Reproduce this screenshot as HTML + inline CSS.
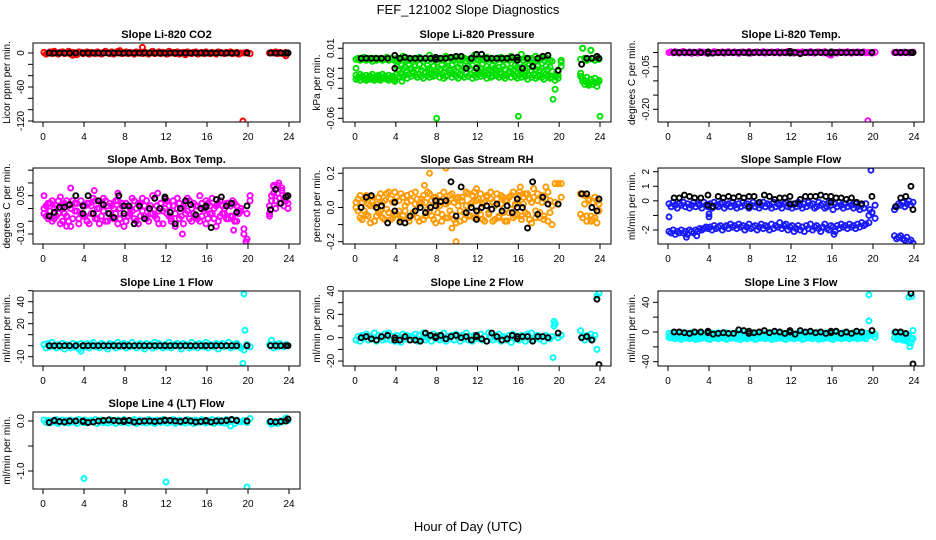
<!DOCTYPE html>
<html><head><meta charset="utf-8"><style>
body{margin:0;background:#fff;}
svg{display:block;font-family:"Liberation Sans",sans-serif;}
</style></head><body>
<svg id="chart" width="936" height="540" viewBox="0 0 936 540">
<rect x="0" y="0" width="936" height="540" fill="#fff"/>
<text x="468" y="14" text-anchor="middle" font-size="13">FEF_121002  Slope Diagnostics</text>
<text x="468" y="531" text-anchor="middle" font-size="13">Hour of Day (UTC)</text>
</svg>
<script>
// shared hours for coloured series
const H=[0.1,0.3,0.5,0.7,0.9,1.1,1.3,1.5,1.7,1.9,2.1,2.3,2.5,2.7,2.9,3.1,3.3,3.5,3.7,3.9,4.1,4.3,4.5,4.7,4.9,5.1,5.3,5.5,5.7,5.9,6.1,6.3,6.5,6.7,6.9,7.1,7.3,7.5,7.7,7.9,8.1,8.3,8.5,8.7,8.9,9.1,9.3,9.5,9.7,9.9,10.1,10.3,10.5,10.7,10.9,11.1,11.3,11.5,11.7,11.9,12.1,12.3,12.5,12.7,12.9,13.1,13.3,13.5,13.7,13.9,14.1,14.3,14.5,14.7,14.9,15.1,15.3,15.5,15.7,15.9,16.1,16.3,16.5,16.7,16.9,17.1,17.3,17.5,17.7,17.9,18.1,18.3,18.5,18.7,18.9,19.1,19.3,19.6,19.9,20.2,22.1,22.3,22.5,22.7,22.9,23.1,23.3,23.5,23.7,23.9];
// hours for black series
const B=[0.6,1.1,1.6,2.1,2.6,3.2,3.9,3.9,4.4,4.9,5.4,5.9,6.4,6.9,7.4,7.9,7.9,8.4,8.9,9.4,9.9,10.4,10.9,11.4,11.9,11.9,12.4,12.9,13.4,13.9,14.4,14.9,15.4,15.9,15.9,16.4,16.9,17.4,17.9,18.4,18.9,19.9,22.2,22.7,23.2,23.7,23.9];

const co2C=[1,-2,0,2,-1,3,0,-2,1,2,-1,0,3,-2,1,0,-3,2,1,-1,0,2,-2,1,0,-1,2,0,-2,1,3,0,-1,2,-2,0,1,4,-1,0,2,-1,1,0,-2,2,0,1,-1,2,0,-2,1,3,-1,0,2,-1,1,0,-2,3,0,1,-1,2,-2,0,1,-3,2,0,-1,1,2,-2,0,1,-1,2,0,-1,1,0,-2,2,1,0,-1,1,0,2,-1,0,1,-2,0,0,1,-1,0,1,0,2,-1,1,0,-2,1,0];
const co2K=[0,0,0,0,0,0,0,0,0,0,0,0,0,0,0,0,0,0,0,0,0,0,0,0,0,0,0,0,0,0,0,0,0,0,0,0,0,0,0,0,0,0,0,0,0,0,0];
const co2OX=[9.7,19.5,23.7,2.9,7.3];
const co2OY=[10,-120,-5,-4,3];

const presC1=[-.001,0,-.002,-.001,.001,-.002,0,-.001,-.003,0,-.002,-.001,0,-.002,-.001,.001,-.002,0,-.001,-.002,0,-.003,-.001,.002,-.002,-.001,0,-.002,-.001,0,-.002,.001,-.001,-.003,0,-.002,.003,-.001,0,-.002,-.001,0,-.002,-.001,.002,-.003,0,-.001,-.002,0,-.001,-.002,.001,0,-.003,-.001,-.002,0,.003,-.001,-.002,0,-.001,-.002,.001,-.001,0,-.002,-.003,0,-.001,.001,-.002,0,-.001,-.002,.002,-.001,0,-.002,-.001,.004,-.002,0,-.001,-.002,0,-.001,.002,-.003,-.001,0,-.002,.001,-.001,-.002,-.003,-.031,-.013,-.002,-.001,.01,0,-.002,-.001,.008,0,-.002,0,-.001];
const presC2=[-.017,-.019,-.016,-.018,-.02,-.017,-.019,-.018,-.016,-.02,-.018,-.017,-.019,-.016,-.018,-.02,-.017,-.019,-.018,-.021,-.008,-.012,-.006,-.011,-.009,-.014,-.007,-.01,-.013,-.008,-.011,-.006,-.012,-.009,-.014,-.007,-.01,-.012,-.008,-.013,-.009,-.011,-.006,-.014,-.01,-.008,-.012,-.007,-.011,-.013,-.009,-.006,-.012,-.01,-.014,-.008,-.011,-.007,-.013,-.009,-.012,-.01,-.006,-.014,-.008,-.011,-.013,-.007,-.01,-.012,-.009,-.014,-.008,-.011,-.006,-.013,-.01,-.012,-.007,-.009,-.011,-.014,-.008,-.012,-.01,-.006,-.013,-.009,-.011,-.007,-.012,-.01,-.014,-.008,-.011,-.009,-.013,-.018,-.02,-.008,-.018,-.02,-.022,-.019,-.025,-.021,-.023,-.02,-.024,-.022];
const presC3=[-.021,-.02,-.022,-.019,-.021,-.022,-.02,-.021,-.019,-.022,-.02,-.021,-.022,-.02,-.019,-.021,-.022,-.02,-.021,-.023,-.016,-.018,-.015,-.019,-.017,-.02,-.016,-.018,-.015,-.017,-.019,-.016,-.018,-.02,-.015,-.017,-.019,-.016,-.018,-.017,-.015,-.019,-.016,-.02,-.018,-.017,-.015,-.019,-.016,-.018,-.02,-.016,-.017,-.019,-.015,-.018,-.016,-.02,-.017,-.019,-.016,-.018,-.015,-.017,-.02,-.016,-.019,-.018,-.015,-.017,-.019,-.016,-.018,-.02,-.017,-.015,-.019,-.016,-.018,-.02,-.017,-.019,-.016,-.018,-.021,-.017,-.019,-.016,-.02,-.018,-.017,-.019,-.021,-.016,-.018,-.02,-.019,-.022,-.017,-.004,-.015,-.023,-.026,-.024,-.027,-.021,-.026,-.024,-.028,-.023];
const presK=[0,0,0,0,0,0,.003,-.01,0,.001,0,0,0,0,0,.001,-.001,0,0,.001,.002,.002,-.01,0,.004,-.01,.004,0,0,0,0,0,.001,.001,-.002,-.01,0,-.008,0,.002,.003,-.012,-.006,0,0,.002,0];
const presOX=[8,16,24,0.1,4.6,19.4,22.3,23.1];
const presOY=[-.06,-.058,-.058,-.01,-.023,-.041,.01,.008];

const tempC=[0,.002,-.001,.003,0,-.002,.001,.004,-.001,0,.002,-.003,.001,0,-.002,.003,0,.001,-.001,.002,0,-.002,.003,.001,-.001,0,.002,-.002,.001,.003,0,-.001,.002,0,-.003,.001,.002,0,-.001,.003,-.002,0,.001,.002,-.001,0,.003,-.002,.001,0,.002,-.001,0,.003,-.002,.001,0,-.001,.004,0,.002,-.002,0,.001,-.003,.002,0,.001,-.001,.003,0,-.002,.001,.002,0,-.001,.003,-.002,-.006,-.009,.001,0,-.002,.002,0,.001,-.001,.003,0,-.002,.001,0,.002,-.001,0,.002,-.001,0,-.002,.001,0,.001,0,-.001,0,.001,0,-.001,0,.001];
const tempK=[0,0,0,0,0,0,.002,-.003,-.002,0,0,0,0,0,0,0,-.002,0,0,0,0,0,0,0,.004,-.002,0,-.004,0,0,0,0,0,.002,-.002,0,0,0,0,0,0,0,0,0,0,0,0];
const tempOX=[19.5];
const tempOY=[-.24];

const ambC1=[-.02,.01,-.04,.02,-.05,0,-.03,.03,-.06,.01,-.02,.03,-.05,.0,-.04,.02,-.01,-.06,.03,-.03,.01,-.05,.02,-.02,.04,-.04,0,-.06,.02,-.01,.03,-.05,-.02,.01,-.04,.03,-.06,0,.02,-.03,-.05,.01,-.02,.04,-.04,0,-.06,.02,-.01,-.03,.03,-.05,.01,-.02,.04,-.04,-.01,.02,-.06,0,.03,-.03,-.05,.01,-.02,.04,-.04,0,-.06,.02,-.01,.03,-.05,-.02,.01,-.04,.05,-.03,0,-.06,.02,-.02,.04,-.04,.01,-.05,.03,-.02,0,-.04,.02,-.03,.03,-.05,.01,-.02,-.01,-.1,-.12,.05,.01,.05,.09,.03,.06,.02,.08,.04,.05,.02];
const ambC2=[.0,-.03,.02,-.01,.03,-.04,.01,-.02,.0,-.05,.02,-.03,.01,-.07,.03,-.01,.02,-.04,-.02,.01,-.03,.02,-.06,.01,-.02,.03,-.04,.0,-.03,.04,-.05,.01,.02,-.03,.0,-.02,.03,-.04,.01,-.07,.02,-.03,.0,-.01,.03,-.05,.02,-.03,.04,.01,-.04,.0,-.02,.05,-.03,.01,-.06,.02,-.01,.03,-.02,.01,-.04,.03,-.07,.0,.02,-.03,.01,-.02,.04,-.04,.0,.02,-.03,.01,-.05,.02,-.01,.03,-.04,.01,-.02,.0,-.07,.02,-.03,.01,-.02,.02,-.04,.01,-.03,.02,-.05,-.01,.0,-.08,-.02,.03,-.02,.03,.06,.0,.09,.04,.07,.01,.03,.0];
const ambK=[-.03,-.015,.005,.005,.015,.05,.01,-.02,.05,-.02,.03,.015,-.02,-.035,.05,.01,-.02,.01,-.06,.01,-.04,0,.04,0,.045,.04,-.015,-.06,0,.03,.015,-.025,0,.01,.005,-.075,.035,.045,.01,.02,-.015,.01,-.005,.075,.02,.045,.05];
const ambOX=[0.1,2.7,1.7,13.6,18.6,22.1,23.0,22.5,19.8,11.2,7.3,5.0,2.3];
const ambOY=[.05,.08,.045,-.1,-.085,-.03,.1,.085,-.13,.06,.06,.07,-.07];

const gasC1=[0,.05,-.06,.03,-.02,.07,-.05,.01,.06,-.08,.02,-.03,.08,-.06,.04,-.01,.09,-.07,.03,-.04,.06,-.02,.08,-.05,.01,.07,-.08,.04,-.03,.09,-.06,.02,.05,-.07,.03,-.01,.08,-.05,.06,-.09,.02,.07,-.04,.09,-.06,.03,-.02,.08,-.07,.05,.01,-.08,.06,-.03,.09,-.05,.02,.07,-.06,.04,-.02,.08,-.07,.03,.06,-.04,.09,-.08,.01,.05,-.06,.07,-.03,.04,-.08,.06,-.01,.09,-.05,.03,.07,-.07,.02,.08,-.04,.05,-.09,.06,-.02,.08,-.06,.03,-.07,.05,.09,-.03,.01,.14,.02,.06,.08,-.06,.07,-.08,.04,-.05,-.07,.06,-.09,.02];
const gasC2=[.03,-.02,.07,-.07,.05,-.04,.02,-.09,.04,.01,-.05,.06,-.02,.03,-.07,.08,-.03,.05,-.06,.09,-.04,.04,-.07,.06,-.02,.03,-.06,.08,-.04,.02,.05,-.08,.03,.07,-.05,.09,-.02,.04,-.07,.06,-.03,.01,-.08,.05,.02,-.06,.07,-.04,.03,-.09,.06,-.02,.04,-.07,.01,.08,-.05,.03,.09,-.06,.05,-.04,.02,-.08,.07,-.03,.05,.03,-.07,.08,-.05,.02,.06,-.08,.04,-.03,.07,-.06,.02,-.04,.09,-.05,.06,-.03,.08,-.07,.03,.11,-.06,.04,-.03,.07,-.05,.12,-.08,.04,-.1,.03,.14,.14,-.04,.08,.02,-.05,.05,-.08,.03,-.06,.04,-.02];
const gasK=[0,.06,.07,0,.01,-.09,.03,-.02,-.085,-.09,-.05,-.02,0,-.03,0,.01,.04,.035,.04,.15,-.05,.12,-.03,0,-.07,-.02,0,.01,-.01,.02,-.02,.01,-.03,0,.05,0,-.12,.15,-.04,.06,.02,.02,.08,.08,0,-.02,.05];
const gasOX=[7.3,8.9,9.9,9.5,6.8,11.9,16.2];
const gasOY=[.2,.23,-.2,-.12,.13,.11,.12];

const flowC1=[-.2,-.4,-.1,-.3,-.5,-.2,-.3,-.1,-.4,-.2,-.5,-.3,-.1,-.4,-.2,-.3,-.5,-.1,-.3,-.4,-.2,-.5,-.1,-.3,-.4,-.2,-.1,-.5,-.3,-.2,-.4,-.1,-.3,-.5,-.2,-.4,-.1,-.3,-.2,-.5,-.3,-.1,-.4,-.2,-.5,-.3,-.1,-.4,-.2,-.3,-.5,-.1,-.4,-.2,-.3,-.5,-.2,-.1,-.4,-.3,-.5,-.2,-.4,-.1,-.3,-.5,-.2,-.4,-.1,-.3,-.2,-.5,-.4,-.1,-.3,-.2,-.5,-.4,-.1,-.3,-.6,-.2,-.4,-.1,-.3,-.5,-.2,-.4,-.1,-.3,-.5,-.2,-.4,-.6,-.3,-.5,-.2,-1,-.8,-.3,-.6,-.4,-.2,-.3,-.1,-.4,-.2,0,-.3,-.1];
const flowC2=[-2.1,-2.2,-2.0,-2.3,-2.1,-2.2,-2.0,-2.2,-2.1,-2.3,-2.0,-2.1,-2.2,-2.0,-2.1,-1.9,-2.0,-1.9,-1.8,-1.9,-1.8,-2.0,-1.7,-1.9,-1.8,-1.7,-2.0,-1.8,-1.7,-1.9,-1.6,-1.8,-1.7,-1.9,-1.6,-1.8,-1.7,-2.0,-1.8,-1.6,-1.9,-1.8,-1.7,-2.0,-1.8,-1.6,-1.9,-1.7,-1.8,-2.0,-1.6,-1.9,-1.7,-1.8,-1.5,-1.9,-1.7,-1.6,-2.0,-1.8,-1.7,-2.1,-1.9,-1.7,-2.0,-1.8,-2.1,-1.7,-1.9,-1.6,-2.0,-1.8,-1.7,-1.9,-2.1,-1.8,-1.6,-1.9,-2.0,-1.7,-1.8,-2.1,-1.7,-1.9,-1.6,-1.8,-1.7,-1.9,-1.6,-1.8,-1.7,-1.9,-1.6,-1.8,-1.5,-1.7,-1.6,-1.5,-.8,-1.2,-2.4,-2.6,-2.5,-2.4,-2.6,-2.7,-2.5,-2.8,-2.7,-2.9];
const flowK=[.2,.2,.4,.3,.2,.2,.4,-.3,-.4,.3,.2,.3,.2,.3,.2,.3,-.4,.3,-.1,.4,.3,.1,.2,.2,-.2,.3,-.2,.1,.3,.3,.3,.4,.3,.3,-.1,.2,.2,.1,.2,-.1,-.2,.3,-.4,.2,.3,1.0,-.6];
const flowOX=[0.1,4.0,19.8,1.8,2.8,16.2,19.7,4.0];
const flowOY=[-1.1,-.9,2.1,-2.5,-2.4,-2.3,-.6,-1.1];

const l1C=[1,-2,2,-1,3,0,-2,1,-1,2,-3,1,0,-2,2,-1,1,-3,2,0,-1,2,-2,1,3,-1,0,-2,2,1,-1,-3,2,0,1,-2,3,-1,0,2,-2,1,-1,3,0,-2,1,2,-1,-3,2,0,1,-2,3,-1,2,0,-2,1,-1,3,-2,0,1,2,-1,-3,2,1,0,-2,3,-1,1,-2,2,0,-1,3,-2,1,0,-1,2,-3,1,2,-1,0,3,-2,1,-1,2,0,-2,-4,1,-1,1,5,-2,1,-1,2,0,-1,1,0];
const l1K=[0,0,0,0,0,0,0,0,0,0,0,0,0,0,0,0,0,0,0,0,0,0,0,0,0,0,0,0,0,0,0,0,0,0,0,0,0,0,0,0,0,0,0,0,0,0,0];
const l1OX=[19.6,19.7,19.5,3.7];
const l1OY=[47,14,-16,-5];

const l2C=[-2,1,-3,2,0,3,-2,1,-1,4,-3,2,0,-2,3,-1,4,-2,1,-3,2,0,-4,3,-1,2,-2,1,0,3,-3,2,-1,4,-2,0,1,-3,3,-1,2,-2,0,4,-3,1,-1,2,-2,3,0,-3,2,-1,4,-2,1,-3,2,0,-1,3,-2,1,-3,4,0,-2,2,-1,3,-3,1,0,-2,2,-4,3,-1,1,-2,2,0,-3,3,-1,4,-2,0,2,-1,1,-3,2,0,-1,1,12,0,2,6,1,-2,2,0,3,-1,2,-10,38];
const l2K=[0,1,-1,-2,1,2,-2,0,-2,1,-2,-2,-3,4,2,1,0,2,-1,1,2,0,1,-2,2,1,-1,-3,4,1,-2,-1,2,1,-1,1,1,-3,1,1,0,4,0,1,-2,33,-23];
const l2OX=[19.5,19.4,19.5,23.7];
const l2OY=[14,-17,10,36];

const l3C1=[-2,-4,-1,-3,-5,-2,-1,-4,-3,-2,-5,-1,-3,-4,-2,-1,-5,-3,-2,-4,-1,-3,-2,-5,-1,-4,-3,-2,-1,-4,-5,-2,-3,-1,-4,-2,1,-3,-5,-2,-4,-1,-3,-2,-5,-1,-4,-3,-2,-1,-5,-3,-2,-4,-1,-3,-5,-2,-4,-1,-2,-3,-5,-1,-4,-2,-3,-1,-5,-2,-4,-3,-1,-2,-5,-3,-4,-1,-2,-3,-5,-1,-4,-2,-3,-1,-5,-2,-4,-3,-1,-2,-5,-3,-4,-1,-2,-2,-4,-3,-1,-3,-5,-2,-4,-3,-6,-5,-8,2];
const l3C2=[-7,-8,-6,-9,-7,-8,-10,-6,-8,-7,-9,-6,-8,-10,-7,-9,-6,-8,-7,-9,-10,-6,-8,-7,-9,-6,-8,-7,-10,-9,-6,-8,-7,-9,-6,-10,-8,-7,-9,-6,-8,-7,-10,-9,-6,-8,-7,-9,-6,-8,-10,-7,-9,-6,-8,-7,-9,-10,-6,-8,-7,-9,-6,-8,-7,-10,-9,-6,-8,-7,-9,-6,-8,-10,-7,-9,-6,-8,-7,-9,-10,-6,-8,-7,-9,-6,-8,-7,-9,-6,-8,-7,-9,-6,-8,-7,-9,-5,-4,-7,-8,-10,-9,-8,-11,-10,-12,-14,-15,-9];
const l3K=[0,0,-1,-2,0,0,-1,1,-3,-2,-1,-2,-2,3,2,-2,1,-1,0,2,-1,1,0,-2,2,0,-3,2,0,1,-1,0,-2,1,-1,1,-2,0,-2,1,0,2,0,0,-2,52,-43];
const l3OX=[19.6,19.6,23.6,23.5,23.8];
const l3OY=[50,15,-20,47,48];

const l4C=[.02,-.03,.01,-.04,0,-.02,.03,-.05,-.01,.02,-.03,.01,-.04,.02,-.02,0,-.05,.03,-.01,-.03,.02,-.04,0,.01,-.02,.03,-.05,-.01,.02,-.03,0,-.04,.03,-.02,.01,-.05,.02,-.01,-.03,.03,0,-.04,.01,-.02,.03,-.05,-.01,.02,-.03,0,-.04,.03,-.02,.01,-.05,.02,-.01,-.03,.03,0,-.04,.01,-.02,.03,-.05,-.01,.02,-.03,0,-.04,.03,-.02,.01,-.05,.02,-.01,-.03,.03,0,-.04,.01,-.02,.03,-.05,-.01,.02,-.03,0,-.04,.03,-.02,-.1,.01,-.05,.02,-.01,-.02,.01,-.03,.05,-.02,-.06,-.04,-.01,-.05,0,-.02,.02,.06,.01];
const l4K=[-.03,.01,-.01,-.02,0,0,0,-.01,-.03,-.02,0,.01,.02,.01,0,-.01,.01,.01,-.02,-.01,0,0,-.01,0,.02,.01,.01,0,-.01,.01,0,-.02,-.01,0,.01,-.02,0,0,.01,.03,.01,0,-.01,-.02,-.01,0,.04];
const l4OX=[4.0,12.0,19.9];
const l4OY=[-1.15,-1.22,-1.32];

const xTicks=[0,4,8,12,16,20,24];

const COLS=[{l:33,r:300,x0:43,x1:289},{l:343,r:611,x0:355,x1:600},{l:658,r:924,x0:668,x1:914}];
const ROWS=[{t:43,b:122},{t:168,b:244},{t:291,b:366},{t:412,b:489}];

const panels=[
 {name:'co2',c:0,r:0,title:'Slope Li-820 CO2',ylab:'Licor ppm per min.',col:'#ff0000',map:[0,53,-120,121],ticks:[0,-20,-40,-60,-80,-100,-120],labs:{'0':'0','-60':'-60','-120':'-120'},series:[co2C],k:co2K,ox:co2OX,oy:co2OY},
 {name:'pressure',c:1,r:0,title:'Slope Li-820 Pressure',ylab:'kPa per min.',col:'#00e000',map:[.01,48.3,-.06,118.3],ticks:[.01,0,-.01,-.02,-.03,-.04,-.05,-.06],labs:{'0.01':'0.01','-0.02':'-0.02','-0.06':'-0.06'},series:[presC1,presC2,presC3],k:presK,ox:presOX,oy:presOY},
 {name:'li820-temp',c:2,r:0,title:'Slope Li-820 Temp.',ylab:'degrees C per min.',col:'#ff00ff',map:[-.05,66.7,-.2,109.3],ticks:[0,-.05,-.1,-.15,-.2],labs:{'-0.05':'-0.05','-0.2':'-0.20'},series:[tempC],k:tempK,ox:tempOX,oy:tempOY},
 {name:'amb-box-temp',c:0,r:1,title:'Slope Amb. Box Temp.',ylab:'degrees C per min.',col:'#ff00ff',map:[.05,195.7,-.1,234],ticks:[.15,.1,.05,0,-.05,-.1],labs:{'0.05':'0.05','-0.1':'-0.10'},series:[ambC1,ambC2],k:ambK,ox:ambOX,oy:ambOY},
 {name:'gas-stream-rh',c:1,r:1,title:'Slope Gas Stream RH',ylab:'percent per min.',col:'#ff9a00',map:[.2,173.3,-.2,241.7],ticks:[.2,.1,0,-.1,-.2],labs:{'0.2':'0.2','0':'0.0','-0.2':'-0.2'},series:[gasC1,gasC2],k:gasK,ox:gasOX,oy:gasOY},
 {name:'sample-flow',c:2,r:1,title:'Slope Sample Flow',ylab:'ml/min per min.',col:'#1a1aff',map:[2,171.7,-2,230],ticks:[2,1,0,-1,-2],labs:{'2':'2','1':'1','0':'0','-2':'-2'},series:[flowC1,flowC2],k:flowK,ox:flowOX,oy:flowOY},
 {name:'line1-flow',c:0,r:2,title:'Slope Line 1 Flow',ylab:'ml/min per min.',col:'#00ffff',map:[40,301.7,-10,356.7],ticks:[50,40,30,20,10,0,-10],labs:{'40':'40','20':'20','-10':'-10'},series:[l1C],k:l1K,ox:l1OX,oy:l1OY},
 {name:'line2-flow',c:1,r:2,title:'Slope Line 2 Flow',ylab:'ml/min per min.',col:'#00ffff',map:[40,291,0,337.7],ticks:[40,30,20,10,0,-10,-20],labs:{'40':'40','20':'20','0':'0','-20':'-20'},series:[l2C],k:l2K,ox:l2OX,oy:l2OY},
 {name:'line3-flow',c:2,r:2,title:'Slope Line 3 Flow',ylab:'ml/min per min.',col:'#00ffff',map:[40,302.3,-40,361.7],ticks:[40,20,0,-20,-40],labs:{'40':'40','0':'0','-40':'-40'},series:[l3C1,l3C2],k:l3K,ox:l3OX,oy:l3OY},
 {name:'line4-flow',c:0,r:3,title:'Slope Line 4 (LT) Flow',ylab:'ml/min per min.',col:'#00ffff',map:[0,421,-1,471],ticks:[0,-.5,-1],labs:{'0':'0.0','-1':'-1.0'},series:[l4C],k:l4K,ox:l4OX,oy:l4OY}
];

const NS='http://www.w3.org/2000/svg';
const svg=document.getElementById('chart');
function mk(tag,attrs,parent){const e=document.createElementNS(NS,tag);for(const a in attrs)e.setAttribute(a,attrs[a]);parent.appendChild(e);return e;}

panels.forEach(p=>{
 const C=COLS[p.c],R=ROWS[p.r];
 const g=mk('g',{},svg);
 
 
 const xs=h=>C.x0+h*(C.x1-C.x0)/24;
 const ys=v=>p.map[1]+(v-p.map[0])*(p.map[3]-p.map[1])/(p.map[2]-p.map[0]);
 const t=mk('text',{x:(C.l+C.r)/2,y:R.t-5,'text-anchor':'middle','font-size':'11','font-weight':'bold'},g);
 t.textContent=p.title;
 
 
 const yl=mk('text',{transform:`translate(${C.l-23},${(R.t+R.b)/2}) rotate(-90)`,'text-anchor':'middle','font-size':'10'},g);
 yl.textContent=p.ylab;
 
 
 xTicks.forEach(v=>{
  const x=xs(v);
  const tk=mk('line',{x1:x,x2:x,y1:R.b,y2:R.b+5,stroke:'#000','stroke-width':1},g);
  
  
  const lb=mk('text',{x:x,y:R.b+18,'text-anchor':'middle','font-size':'10'},g);
  lb.textContent=v;
  
  
 });
 p.ticks.forEach(v=>{
  const y=ys(v);
  const tk=mk('line',{x1:C.l-5,x2:C.l,y1:y,y2:y,stroke:'#000','stroke-width':1},g);
  
  
  const key=String(+v.toFixed(3));
  if(p.labs[key]!==undefined){
   const lb=mk('text',{transform:`translate(${C.l-9},${y}) rotate(-90)`,'text-anchor':'middle','font-size':'10'},g);
   lb.textContent=p.labs[key];
   
   
  }
 });
 const clipId='clip-'+p.name;
 const cp=mk('clipPath',{id:clipId},g);
 mk('rect',{x:C.l,y:R.t,width:C.r-C.l,height:R.b-R.t},cp);
 const pts=mk('g',{'clip-path':`url(#${clipId})`,fill:'none','stroke-width':1.9},g);
 p.series.forEach(s=>{
  const n=Math.min(H.length,s.length);
  for(let i=0;i<n;i++){
   const c=mk('circle',{cx:xs(H[i]),cy:ys(s[i]),r:2.6,stroke:p.col},pts);
   
   
  }
 });
 for(let i=0;i<p.ox.length;i++){
  const c=mk('circle',{cx:xs(p.ox[i]),cy:ys(p.oy[i]),r:2.5,stroke:p.col},pts);
  
  
 }
 const nk=Math.min(B.length,p.k.length);
 for(let i=0;i<nk;i++){
  const c=mk('circle',{cx:xs(B[i]),cy:ys(p.k[i]),r:2.5,stroke:'#000'},pts);
  
  
 }
 const box=mk('rect',{x:C.l,y:R.t,width:C.r-C.l,height:R.b-R.t,fill:'none',stroke:'#000','stroke-width':1},g);
 
 
});
</script>
</body></html>
